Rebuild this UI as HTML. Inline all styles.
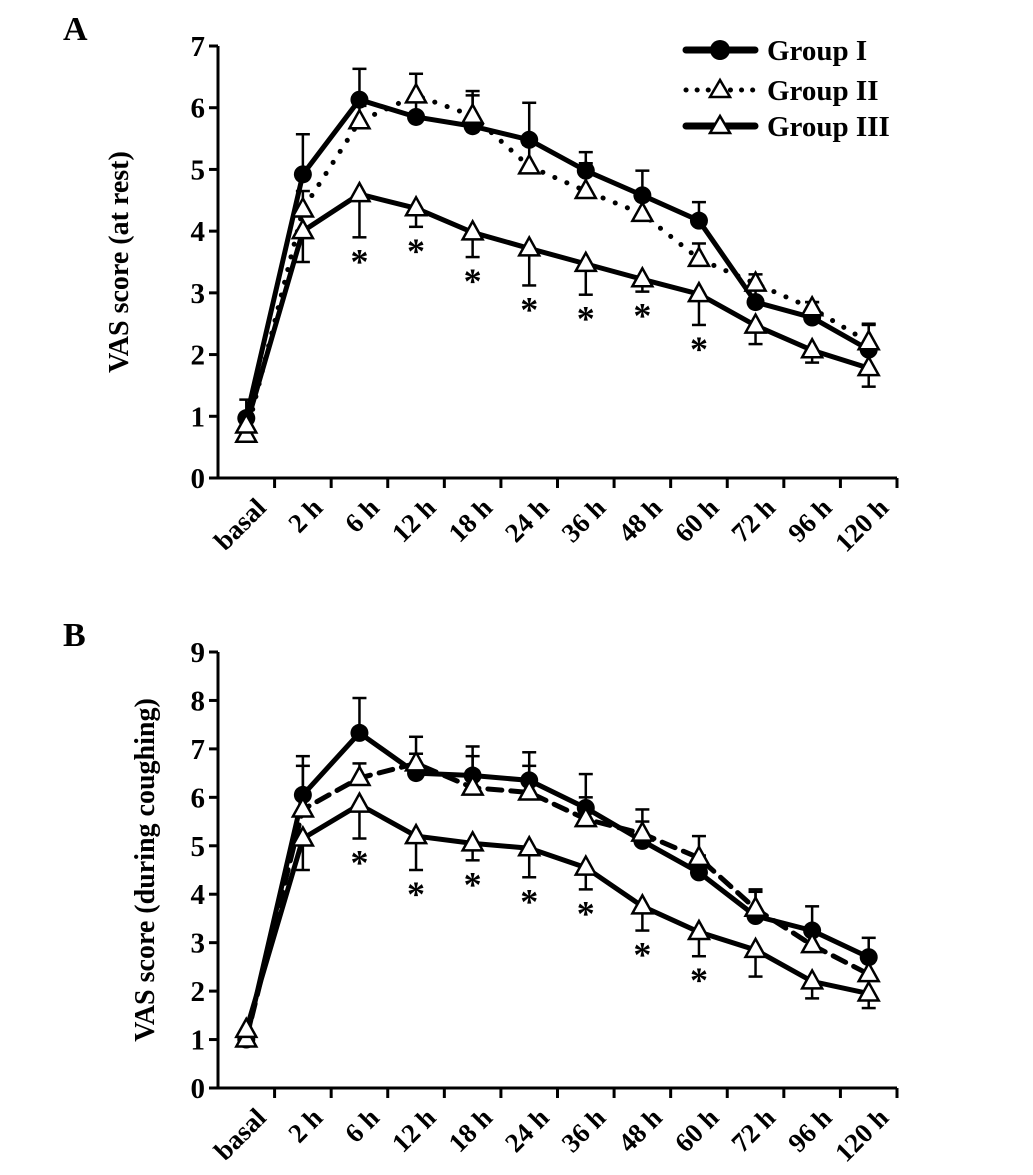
<!DOCTYPE html>
<html><head><meta charset="utf-8"><style>
body{margin:0;background:#fff}
svg{display:block;font-family:"Liberation Serif",serif;font-weight:bold}
</style></head><body>
<svg id="svg" width="1033" height="1175" viewBox="0 0 1033 1175"></svg>
<script>
const categories=["basal","2 h","6 h","12 h","18 h","24 h","36 h","48 h","60 h","72 h","96 h","120 h"];
const aG1=[0.97,4.92,6.13,5.85,5.7,5.48,4.98,4.58,4.17,2.85,2.6,2.08];
const aG2=[0.7,4.35,5.78,6.2,5.87,5.05,4.65,4.28,3.55,3.15,2.75,2.2];
const aG3=[0.85,4.0,4.6,4.37,3.98,3.72,3.47,3.22,2.98,2.47,2.07,1.78];
const aE1=[0.3,0.65,0.5,0.25,0.5,0.6,0.3,0.4,0.3,0.3,0.25,0.4];
const aE2=[0.1,0.3,0.25,0.35,0.4,0.35,0.45,0.25,0.25,0.15,0.1,0.3];
const aE3=[0.1,0.5,0.7,0.3,0.4,0.6,0.5,0.2,0.5,0.3,0.2,0.3];
const bG1=[1.0,6.05,7.33,6.5,6.45,6.35,5.78,5.1,4.45,3.55,3.25,2.7];
const bG2=[1.0,5.75,6.4,6.7,6.2,6.1,5.55,5.25,4.75,3.7,2.95,2.35];
const bG3=[1.2,5.15,5.85,5.2,5.05,4.95,4.55,3.75,3.22,2.85,2.2,1.95];
const bE1=[0.1,0.8,0.72,0.4,0.6,0.58,0.7,0.4,0.35,0.5,0.5,0.4];
const bE2=[0.1,0.9,0.3,0.55,0.65,0.55,0.45,0.5,0.45,0.4,0.35,0.3];
const bE3=[0.1,0.65,0.7,0.7,0.35,0.6,0.45,0.5,0.5,0.55,0.35,0.3];
const starIdx=[2,3,4,5,6,7,8];
const aTicks=[0,1,2,3,4,5,6,7];
const bTicks=[0,1,2,3,4,5,6,7,8,9];

const NS="http://www.w3.org/2000/svg";
const svg=document.getElementById('svg');
function mk(tag,attrs,parent,text){const e=document.createElementNS(NS,tag);for(const k in attrs)e.setAttribute(k,attrs[k]);if(text!==undefined)e.textContent=text;(parent||svg).appendChild(e);return e;}

function chart(cfg){
  const g=mk('g',{});
  
  
  const x0=218,x1=897,bw=(x1-x0)/categories.length;
  const xs=i=>x0+bw*(i+0.5);
  const ys=v=>cfg.yb-(cfg.yb-cfg.yt)*v/cfg.max;
  const ax=mk('line',{x1:x0,y1:cfg.yt,x2:x0,y2:cfg.yb+1,stroke:'#000','stroke-width':3},g);
  
  
  const axx=mk('line',{x1:x0-1,y1:cfg.yb,x2:x1,y2:cfg.yb,stroke:'#000','stroke-width':3},g);
  
  
  cfg.ticks.forEach(t=>{
    const y=ys(t);
    mk('line',{x1:x0-9,y1:y,x2:x0,y2:y,stroke:'#000','stroke-width':3},g);
    const tl=mk('text',{x:x0-13,y:y+10,'text-anchor':'end','font-size':29},g,String(t));
    
    
  });
  categories.forEach((c,i)=>{
    const xb=x0+bw*(i+1);
    mk('line',{x1:xb,y1:cfg.yb,x2:xb,y2:cfg.yb+10,stroke:'#000','stroke-width':3},g);
    const x=xs(i)+10,y=cfg.yb+20;
    const tl=mk('text',{x:x,y:y,'text-anchor':'end','font-size':27,transform:`rotate(-45 ${x} ${y})`,dy:16},g,c);
    
    
  });
  const yt=mk('text',{x:0,y:0,'text-anchor':'middle','font-size':28,transform:`translate(${cfg.ytx},${(cfg.yt+cfg.yb)/2}) rotate(-90)`},g,cfg.ytitle);
  
  
  const pl=mk('text',{x:63,y:cfg.yt-6,'font-size':34},g,cfg.panel);
  
  
  cfg.series.forEach(s=>{
    const sg=mk('g',{},g);
    
    
    s.v.forEach((v,i)=>{
      const x=xs(i),up=s.dir>0;
      const ye=ys(v+(up?s.e[i]:-s.e[i]));
      mk('line',{x1:x,y1:ys(v),x2:x,y2:ye,stroke:'#000','stroke-width':2.5},sg);
      mk('line',{x1:x-7,y1:ye,x2:x+7,y2:ye,stroke:'#000','stroke-width':2.5},sg);
    });
    const pts=s.v.map((v,i)=>xs(i)+','+ys(v)).join(' ');
    const pa={points:pts,fill:'none',stroke:'#000','stroke-width':s.w};
    if(s.dash){pa['stroke-dasharray']=s.dash;pa['stroke-linecap']='round';}
    const ln=mk('polyline',pa,sg);
    
    
    s.v.forEach((v,i)=>{
      const x=xs(i),y=ys(v);
      let m;
      if(s.marker==='circle')m=mk('circle',{cx:x,cy:y,r:9,fill:'#000'},sg);
      else m=mk('polygon',{points:`${x},${y-11} ${x-10},${y+7} ${x+10},${y+7}`,fill:'#fff',stroke:'#000','stroke-width':2.5},sg);
      
      
    });
  });
  const s3=cfg.series[2];
  starIdx.forEach(i=>{
    const st=mk('text',{x:xs(i),y:ys(s3.v[i]-s3.e[i])+36,'text-anchor':'middle','font-size':36},g,'*');
    
    
  });
}

chart({name:'chart-a',panel:'A',yt:46,yb:478,max:7,ticks:aTicks,ytx:128,ytitle:'VAS score (at rest)',
  series:[
    {name:'group-i',v:aG1,e:aE1,dir:1,w:5,marker:'circle'},
    {name:'group-ii',v:aG2,e:aE2,dir:1,w:5,dash:'0.1 13',marker:'tri'},
    {name:'group-iii',v:aG3,e:aE3,dir:-1,w:5,marker:'tri'}]});
chart({name:'chart-b',panel:'B',yt:652,yb:1088,max:9,ticks:bTicks,ytx:154,ytitle:'VAS score (during coughing)',
  series:[
    {name:'group-i',v:bG1,e:bE1,dir:1,w:5,marker:'circle'},
    {name:'group-ii',v:bG2,e:bE2,dir:1,w:5,dash:'14 9',marker:'tri'},
    {name:'group-iii',v:bG3,e:bE3,dir:-1,w:5,marker:'tri'}]});

const lg=mk('g',{});


[['Group I',50,'circle',null],['Group II',90,'tri','0.1 11'],['Group III',126,'tri',null]].forEach(([t,y,m,d])=>{
  const eg=mk('g',{},lg);
  
  
  const la={x1:686,y1:y,x2:755,y2:y,stroke:'#000','stroke-width':d?5:7,'stroke-linecap':'round'};
  if(d)la['stroke-dasharray']=d;
  mk('line',la,eg);
  if(m==='circle')mk('circle',{cx:720,cy:y,r:10,fill:'#000'},eg);
  else mk('polygon',{points:`720,${y-10} 710,${y+7} 730,${y+7}`,fill:'#fff',stroke:'#000','stroke-width':2.5},eg);
  mk('text',{x:767,y:y+10,'font-size':29},eg,t);
});
</script>
</body></html>
